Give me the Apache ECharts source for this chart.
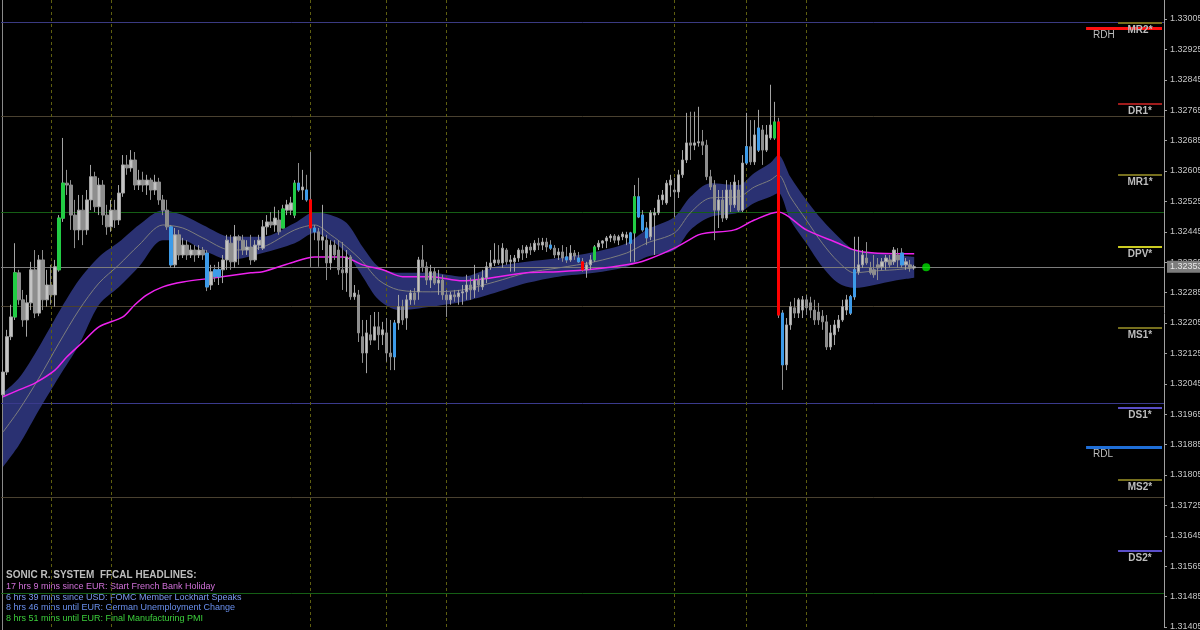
<!DOCTYPE html>
<html><head><meta charset="utf-8">
<script src="https://cdn.jsdelivr.net/npm/echarts@6/dist/echarts.min.js"></script>
<style>html,body{margin:0;padding:0;background:#000}#c{width:1200px;height:630px}</style>
</head><body><div id="c"></div>
<script>
// ---- candle data (EURUSD-like) ----
const open = [1.32016,1.32076,1.32169,1.32221,1.32337,1.32266,1.32213,1.32258,1.32345,1.32231,1.32371,1.32266,1.32305,1.32279,1.32345,1.32481,1.32573,1.32568,1.32489,1.32450,1.32502,1.32450,1.32529,1.32590,1.32511,1.32568,1.32489,1.32458,1.32502,1.32476,1.32547,1.32621,1.32613,1.32634,1.32568,1.32581,1.32568,1.32581,1.32555,1.32576,1.32529,1.32502,1.32458,1.32358,1.32437,1.32384,1.32410,1.32384,1.32397,1.32384,1.32397,1.32389,1.32305,1.32345,1.32327,1.32345,1.32371,1.32415,1.32366,1.32432,1.32423,1.32397,1.32405,1.32371,1.32410,1.32402,1.32458,1.32471,1.32463,1.32476,1.32455,1.32502,1.32502,1.32489,1.32573,1.32555,1.32555,1.32529,1.32455,1.32445,1.32423,1.32423,1.32363,1.32410,1.32397,1.32345,1.32337,1.32379,1.32274,1.32279,1.32169,1.32126,1.32174,1.32160,1.32195,1.32174,1.32179,1.32126,1.32116,1.32205,1.32248,1.32218,1.32266,1.32284,1.32287,1.32371,1.32353,1.32318,1.32340,1.32310,1.32318,1.32279,1.32266,1.32279,1.32274,1.32284,1.32287,1.32305,1.32292,1.32318,1.32300,1.32324,1.32353,1.32363,1.32371,1.32363,1.32397,1.32366,1.32366,1.32376,1.32397,1.32389,1.32405,1.32397,1.32415,1.32410,1.32418,1.32410,1.32402,1.32384,1.32392,1.32379,1.32371,1.32389,1.32376,1.32366,1.32345,1.32358,1.32371,1.32405,1.32415,1.32421,1.32429,1.32434,1.32423,1.32432,1.32429,1.32415,1.32442,1.32537,1.32489,1.32455,1.32432,1.32489,1.32495,1.32529,1.32521,1.32568,1.32555,1.32550,1.32595,1.32634,1.32679,1.32673,1.32679,1.32682,1.32673,1.32590,1.32568,1.32502,1.32529,1.32481,1.32555,1.32516,1.32555,1.32502,1.32626,1.32669,1.32629,1.32660,1.32713,1.32660,1.32692,1.32692,1.32734,1.32231,1.32095,1.32200,1.32245,1.32231,1.32239,1.32266,1.32258,1.32239,1.32234,1.32223,1.32208,1.32142,1.32174,1.32192,1.32213,1.32239,1.32231,1.32274,1.32340,1.32358,1.32376,1.32350,1.32345,1.32358,1.32353,1.32366,1.32371,1.32366,1.32384,1.32389,1.32358,1.32358,1.32350];
const close = [1.32076,1.32169,1.32221,1.32337,1.32266,1.32213,1.32258,1.32345,1.32231,1.32371,1.32266,1.32305,1.32279,1.32353,1.32481,1.32573,1.32568,1.32489,1.32450,1.32502,1.32450,1.32529,1.32590,1.32511,1.32568,1.32489,1.32458,1.32502,1.32476,1.32547,1.32621,1.32613,1.32634,1.32568,1.32581,1.32568,1.32581,1.32555,1.32576,1.32529,1.32502,1.32458,1.32358,1.32437,1.32384,1.32410,1.32384,1.32397,1.32384,1.32397,1.32384,1.32300,1.32340,1.32327,1.32345,1.32371,1.32423,1.32366,1.32432,1.32423,1.32397,1.32405,1.32371,1.32410,1.32423,1.32458,1.32471,1.32463,1.32481,1.32445,1.32505,1.32516,1.32521,1.32573,1.32555,1.32563,1.32529,1.32455,1.32445,1.32423,1.32432,1.32363,1.32410,1.32384,1.32345,1.32337,1.32379,1.32274,1.32284,1.32179,1.32126,1.32179,1.32160,1.32195,1.32174,1.32187,1.32126,1.32116,1.32205,1.32248,1.32213,1.32266,1.32284,1.32266,1.32371,1.32353,1.32318,1.32340,1.32310,1.32318,1.32279,1.32266,1.32279,1.32274,1.32284,1.32287,1.32305,1.32292,1.32318,1.32305,1.32324,1.32353,1.32363,1.32371,1.32363,1.32402,1.32366,1.32371,1.32376,1.32397,1.32389,1.32405,1.32397,1.32415,1.32410,1.32418,1.32405,1.32402,1.32384,1.32392,1.32376,1.32371,1.32389,1.32381,1.32366,1.32345,1.32358,1.32371,1.32405,1.32415,1.32421,1.32429,1.32434,1.32423,1.32432,1.32439,1.32437,1.32442,1.32537,1.32484,1.32450,1.32429,1.32495,1.32495,1.32529,1.32542,1.32573,1.32581,1.32550,1.32595,1.32634,1.32679,1.32673,1.32679,1.32682,1.32673,1.32590,1.32563,1.32502,1.32529,1.32481,1.32555,1.32516,1.32576,1.32502,1.32626,1.32669,1.32629,1.32700,1.32718,1.32660,1.32700,1.32726,1.32734,1.32226,1.32095,1.32200,1.32248,1.32231,1.32266,1.32266,1.32245,1.32239,1.32213,1.32213,1.32208,1.32142,1.32179,1.32200,1.32213,1.32248,1.32266,1.32274,1.32345,1.32358,1.32384,1.32363,1.32337,1.32332,1.32350,1.32366,1.32376,1.32358,1.32397,1.32371,1.32358,1.32366,1.32350,1.32353];
const high = [1.32108,1.32187,1.32253,1.32415,1.32345,1.32292,1.32279,1.32366,1.32397,1.32384,1.32397,1.32345,1.32358,1.32371,1.32489,1.32692,1.32608,1.32581,1.32529,1.32542,1.32542,1.32555,1.32621,1.32603,1.32587,1.32581,1.32516,1.32529,1.32529,1.32568,1.32647,1.32647,1.32660,1.32655,1.32608,1.32603,1.32595,1.32587,1.32595,1.32587,1.32542,1.32529,1.32463,1.32455,1.32450,1.32429,1.32423,1.32410,1.32410,1.32410,1.32405,1.32397,1.32358,1.32358,1.32366,1.32384,1.32437,1.32437,1.32463,1.32437,1.32437,1.32423,1.32437,1.32423,1.32437,1.32476,1.32489,1.32497,1.32511,1.32502,1.32516,1.32529,1.32537,1.32581,1.32626,1.32608,1.32595,1.32655,1.32463,1.32455,1.32516,1.32437,1.32423,1.32423,1.32423,1.32418,1.32397,1.32384,1.32305,1.32292,1.32213,1.32213,1.32226,1.32234,1.32234,1.32208,1.32218,1.32213,1.32213,1.32279,1.32266,1.32279,1.32292,1.32297,1.32379,1.32410,1.32366,1.32358,1.32350,1.32345,1.32332,1.32292,1.32287,1.32292,1.32292,1.32305,1.32332,1.32324,1.32358,1.32332,1.32345,1.32366,1.32397,1.32415,1.32410,1.32415,1.32402,1.32384,1.32384,1.32402,1.32410,1.32410,1.32415,1.32423,1.32429,1.32429,1.32429,1.32423,1.32410,1.32402,1.32410,1.32405,1.32410,1.32397,1.32392,1.32376,1.32366,1.32384,1.32410,1.32423,1.32423,1.32434,1.32439,1.32439,1.32437,1.32445,1.32445,1.32445,1.32568,1.32587,1.32502,1.32471,1.32502,1.32508,1.32542,1.32555,1.32581,1.32595,1.32587,1.32608,1.32660,1.32758,1.32761,1.32761,1.32774,1.32713,1.32687,1.32608,1.32581,1.32555,1.32555,1.32581,1.32576,1.32595,1.32581,1.32647,1.32758,1.32739,1.32739,1.32766,1.32726,1.32726,1.32832,1.32787,1.32745,1.32239,1.32218,1.32261,1.32271,1.32271,1.32276,1.32279,1.32274,1.32266,1.32258,1.32239,1.32226,1.32200,1.32213,1.32226,1.32266,1.32279,1.32279,1.32432,1.32432,1.32397,1.32418,1.32366,1.32384,1.32376,1.32376,1.32384,1.32384,1.32405,1.32402,1.32402,1.32376,1.32371,1.32358];
const low = [1.32008,1.32068,1.32160,1.32213,1.32253,1.32195,1.32169,1.32239,1.32218,1.32223,1.32239,1.32248,1.32253,1.32248,1.32340,1.32471,1.32542,1.32450,1.32402,1.32423,1.32410,1.32437,1.32502,1.32497,1.32489,1.32463,1.32437,1.32445,1.32455,1.32463,1.32537,1.32595,1.32603,1.32555,1.32555,1.32550,1.32542,1.32529,1.32542,1.32516,1.32489,1.32450,1.32350,1.32350,1.32371,1.32376,1.32371,1.32376,1.32366,1.32376,1.32371,1.32289,1.32292,1.32313,1.32305,1.32310,1.32345,1.32345,1.32350,1.32358,1.32384,1.32384,1.32358,1.32366,1.32397,1.32397,1.32437,1.32455,1.32445,1.32437,1.32455,1.32489,1.32489,1.32481,1.32550,1.32529,1.32524,1.32353,1.32423,1.32353,1.32397,1.32318,1.32345,1.32371,1.32332,1.32292,1.32287,1.32266,1.32266,1.32155,1.32100,1.32073,1.32147,1.32160,1.32134,1.32147,1.32103,1.32081,1.32081,1.32187,1.32200,1.32187,1.32253,1.32253,1.32266,1.32340,1.32305,1.32297,1.32305,1.32279,1.32266,1.32221,1.32253,1.32261,1.32253,1.32253,1.32266,1.32266,1.32271,1.32287,1.32292,1.32310,1.32345,1.32355,1.32358,1.32350,1.32358,1.32340,1.32340,1.32366,1.32371,1.32376,1.32384,1.32392,1.32397,1.32397,1.32392,1.32397,1.32376,1.32371,1.32366,1.32363,1.32366,1.32371,1.32363,1.32340,1.32324,1.32345,1.32366,1.32397,1.32402,1.32402,1.32418,1.32415,1.32410,1.32423,1.32410,1.32366,1.32366,1.32481,1.32445,1.32410,1.32423,1.32384,1.32489,1.32516,1.32516,1.32537,1.32484,1.32534,1.32587,1.32626,1.32634,1.32660,1.32669,1.32647,1.32581,1.32555,1.32423,1.32455,1.32471,1.32476,1.32497,1.32508,1.32497,1.32497,1.32621,1.32621,1.32621,1.32655,1.32621,1.32655,1.32687,1.32687,1.32218,1.32029,1.32081,1.32187,1.32218,1.32218,1.32218,1.32226,1.32218,1.32200,1.32200,1.32187,1.32134,1.32134,1.32147,1.32182,1.32208,1.32226,1.32226,1.32266,1.32332,1.32350,1.32358,1.32332,1.32324,1.32318,1.32345,1.32345,1.32350,1.32358,1.32350,1.32350,1.32345,1.32340,1.32345];

// candles painted by the Sonic R colour indicator
const greenBars = [3,14,15,70,73,148,158,193];
const blueBars = [42,51,53,54,74,76,78,98,137,141,144,157,159,160,161,186,189,195,212,213,225];
const redBars = [77,145,194];

// dragon band (EMA34 high / close / low), read at bar positions
const bandIdx =   [0,4,9,14,19,24,29,34,40,45,50,57,65,73,78,82,86,90,94,99,107,115,123,131,139,148,156,161,168,172,177,184,188,192,194,197,201,205,209,213,218,223,228];
const bandUpper = [1.32021,1.32060,1.32142,1.32234,1.32318,1.32379,1.32418,1.32463,1.32502,1.32489,1.32463,1.32432,1.32432,1.32468,1.32497,1.32489,1.32468,1.32405,1.32353,1.32337,1.32337,1.32327,1.32353,1.32366,1.32376,1.32392,1.32415,1.32450,1.32484,1.32537,1.32573,1.32568,1.32600,1.32626,1.32647,1.32590,1.32529,1.32476,1.32432,1.32397,1.32389,1.32384,1.32379];
const bandMid =   [1.31918,1.31976,1.32060,1.32152,1.32239,1.32310,1.32358,1.32410,1.32463,1.32455,1.32429,1.32397,1.32405,1.32450,1.32463,1.32437,1.32405,1.32366,1.32318,1.32292,1.32287,1.32292,1.32313,1.32337,1.32350,1.32366,1.32389,1.32415,1.32442,1.32495,1.32534,1.32537,1.32563,1.32581,1.32595,1.32537,1.32476,1.32415,1.32366,1.32337,1.32342,1.32345,1.32350];
const bandLower = [1.31826,1.31884,1.31976,1.32063,1.32147,1.32253,1.32300,1.32353,1.32423,1.32423,1.32397,1.32371,1.32389,1.32415,1.32442,1.32423,1.32389,1.32327,1.32266,1.32239,1.32248,1.32261,1.32284,1.32310,1.32327,1.32337,1.32353,1.32379,1.32397,1.32450,1.32484,1.32495,1.32521,1.32537,1.32547,1.32476,1.32415,1.32353,1.32310,1.32297,1.32305,1.32316,1.32324];

// EMA 89 (magenta)
const emaIdx = [0,4,8,13,16,20,24,30,33,36,40,45,53,62,65,72,78,85,90,95,100,107,115,131,139,148,156,161,168,174,176,183,188,194,201,209,213,218,228];
const ema89 =  [1.32011,1.32029,1.32047,1.32081,1.32116,1.32155,1.32195,1.32221,1.32253,1.32279,1.32300,1.32313,1.32324,1.32337,1.32340,1.32363,1.32379,1.32379,1.32358,1.32345,1.32327,1.32327,1.32316,1.32337,1.32340,1.32347,1.32358,1.32371,1.32402,1.32437,1.32442,1.32450,1.32476,1.32497,1.32450,1.32415,1.32397,1.32389,1.32387];

// pivot levels
const fullLevels = [1.32997,1.32748,1.32497,1.32248,1.31994,1.31747,1.31495];
const levelNames = ['MR2*','DR1*','MR1*','DPV*','MS1*','DS1*','MS2*','DS2*'];
const levelValues = [1.32995,1.32781,1.32595,1.32405,1.32192,1.31981,1.31792,1.31605];
const rangeNames = ['RDH','RDL'];
const rangeValues = [1.32981,1.31879];

// session separators (bar index)
const sessionBars = [12,27,77,96,111,168,186,201];
const signalDot = [231, 1.32352];

const headlines = [
  '17 hrs 9 mins since EUR: Start French Bank Holiday',
  '6 hrs 39 mins since USD: FOMC Member Lockhart Speaks',
  '8 hrs 46 mins until EUR: German Unemployment Change',
  '8 hrs 51 mins until EUR: Final Manufacturing PMI'
];
const headerText = 'SONIC R. SYSTEM  FFCAL HEADLINES:';

// ---- styles ----
const slotCount = 291;
const categories = Array.from({length: slotCount}, (_, i) => String(i));
const fullColors = ['#3a3a82','#4a4130','#155e15','#4a4130','#3a3a8c','#4a4130','#155e15'];
const levelColors = ['#77701e','#a01c1c','#77701e','#cccc22','#77701e','#5a4ec8','#77701e','#5a4ec8'];
const rangeColors = ['#ff1010','#1f6fd8'];
const headlineColors = ['#d070d8','#7b98f0','#6a90ee','#3ccf3c'];
const FONT = '"Liberation Sans", Arial, sans-serif';

const lastPrice = close[close.length - 1];

const candleData = open.map((o, i) => [o, close[i], low[i], high[i]]);
function bodies(list) {
  return list.map(i => [i, open[i], close[i], Math.min(open[i], close[i]), Math.max(open[i], close[i])]);
}
function colorCandle(name, list, col) {
  return {
    name, type: 'candlestick', z: 4, barWidth: 3,
    data: bodies(list), encode: {x: 0, y: [1, 2, 3, 4]},
    itemStyle: {color: col, color0: col, borderColor: col, borderColor0: col, borderWidth: 1}
  };
}

const markData = [];
fullLevels.forEach((v, k) => markData.push({yAxis: v, lineStyle: {color: fullColors[k], width: 1, type: 'solid'}, label: {show: false}}));
sessionBars.forEach(b => markData.push({xAxis: b, lineStyle: {color: '#5e5e10', width: 1, type: [3, 3]}, label: {show: false}}));
levelValues.forEach((v, k) => markData.push([
  {coord: [279, v], lineStyle: {color: levelColors[k], width: 2, type: 'solid'},
   label: {show: true, position: 'insideMiddleBottom', distance: 2, formatter: levelNames[k], color: '#bdbdbd', fontSize: 10, fontWeight: 'bold', fontFamily: FONT}},
  {coord: [290, v]}
]));
rangeValues.forEach((v, k) => markData.push([
  {coord: [271, v], lineStyle: {color: rangeColors[k], width: 3, type: 'solid'},
   label: {show: true, position: 'insideStartBottom', distance: [7, 2], formatter: rangeNames[k], color: '#bdbdbd', fontSize: 10, fontFamily: FONT}},
  {coord: [290, v]}
]));
markData.push({yAxis: lastPrice, lineStyle: {color: '#7c7c7c', width: 1, type: 'solid'},
  label: {show: true, position: 'end', distance: 3, formatter: lastPrice.toFixed(5), color: '#e8e8e8', backgroundColor: '#7c7c7c', padding: [2, 3, 1, 3], fontSize: 9, fontFamily: FONT}});

const chart = echarts.init(document.getElementById('c'), null, {renderer: 'canvas'});
chart.setOption({
  backgroundColor: '#000000',
  animation: false,
  grid: {left: 1, right: 36, top: 0, bottom: 3, containLabel: false, outerBoundsMode: 'none'},
  xAxis: {type: 'category', data: categories, boundaryGap: true,
    axisLine: {show: false}, axisTick: {show: false}, axisLabel: {show: false}, splitLine: {show: false}},
  yAxis: {type: 'value', position: 'right', min: 1.31405, max: 1.33055, interval: 0.0008, scale: true,
    axisLine: {show: true, lineStyle: {color: '#a0a0a0'}},
    axisTick: {show: true, length: 3, lineStyle: {color: '#a0a0a0'}},
    splitLine: {show: false},
    axisLabel: {color: '#c4c4c4', fontSize: 9, fontFamily: FONT, margin: 6, showMaxLabel: false,
      formatter: v => v.toFixed(5)}},
  series: [
    {name: 'bandLow', type: 'line', stack: 'band', z: 1, symbol: 'none', smooth: 0.3,
     data: bandIdx.map((b, k) => [b, bandLower[k]]), lineStyle: {width: 0, opacity: 0}},
    {name: 'band', type: 'line', stack: 'band', z: 1, symbol: 'none', smooth: 0.3,
     data: bandIdx.map((b, k) => [b, bandUpper[k] - bandLower[k]]), lineStyle: {width: 0, opacity: 0},
     areaStyle: {color: '#2a3172', opacity: 1}},
    {name: 'bandMid', type: 'line', z: 2, symbol: 'none', smooth: 0.3,
     data: bandIdx.map((b, k) => [b, bandMid[k]]), lineStyle: {color: '#7d7d7d', width: 1}},
    {name: 'ema89', type: 'line', z: 2, symbol: 'none', smooth: 0.3,
     data: emaIdx.map((b, k) => [b, ema89[k]]), lineStyle: {color: '#ee22ee', width: 1.5},
     markLine: {silent: true, z: 1.5, precision: 5, symbol: ['none', 'none'], animation: false, data: markData}},
    {name: 'price', type: 'candlestick', z: 3, barWidth: 3, data: candleData,
     itemStyle: {color: '#c4c4c4', color0: '#8e8e8e', borderColor: '#a4a4a4', borderColor0: '#8e8e8e', borderWidth: 1}},
    colorCandle('green', greenBars, '#22cc44'),
    colorCandle('blue', blueBars, '#3d9be9'),
    colorCandle('red', redBars, '#ff0000'),
    {name: 'signal', type: 'scatter', z: 5, symbolSize: 8, data: [signalDot], itemStyle: {color: '#00e000'}}
  ],
  graphic: [
    {type: 'line', shape: {x1: 2.5, y1: 0, x2: 2.5, y2: 630}, style: {stroke: '#8a8a8a', lineWidth: 1}, silent: true},
    {type: 'text', left: 6, top: 570, style: {text: headerText, fill: '#bdbdbd', font: 'bold 10px ' + FONT}},
    ...headlines.map((t, k) => ({type: 'text', left: 6, top: 582 + k * 10.7,
      style: {text: t, fill: headlineColors[k], font: '9px ' + FONT}}))
  ]
});
</script>
</body></html>
